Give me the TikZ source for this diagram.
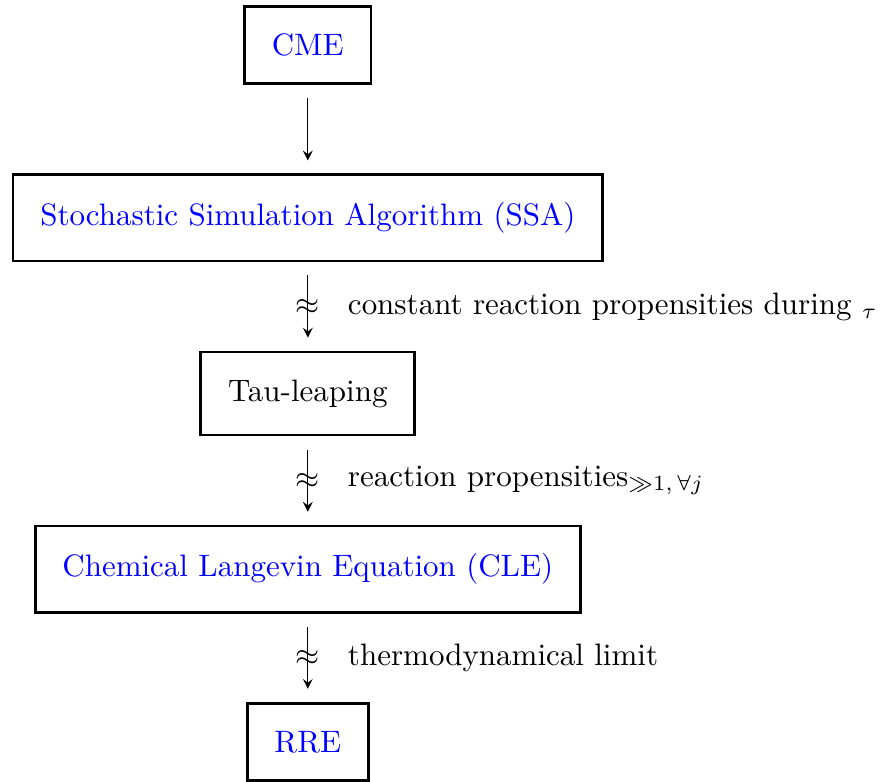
\documentclass[tikz,border=0pt]{standalone}
\usepackage{amsmath, amssymb}
\usetikzlibrary{positioning,arrows}

\begin{document}
\begin{tikzpicture}[>=stealth, node distance=1cm,
    box/.style={rectangle, draw, line width=0.9pt, inner xsep=8.8pt, inner ysep=8.9pt},
    step arrow/.style={->, shorten >=4.2pt, shorten <=4.2pt}]
    \useasboundingbox (0,0) rectangle (10,-8.855);

    % Chain of models, from the master equation down to the rate equations
    \node (cme) at (3.49,-0.51) [box, text=blue] {CME};
    \node (ssa) [box, text=blue, below=of cme] {Stochastic Simulation Algorithm (SSA)};
    \node (tau) [box, below=of ssa] {Tau-leaping};
    \node (cle) [box, text=blue, below=of tau] {Chemical Langevin Equation (CLE)};
    \node (rre) [box, text=blue, below=of cle] {RRE};

    % Exact step
    \draw[step arrow] (cme) -- (ssa);

    % Approximations
    \draw[step arrow] (ssa) -- node (apx1) {$\approx$} (tau);
    \node (lbl1) [right=2pt of apx1] {constant reaction propensities during $_\tau$};

    \draw[step arrow] (tau) -- node (apx2) {$\approx$} (cle);
    \node (lbl2) [right=2pt of apx2] {reaction propensities$_{\gg 1,\,\forall j}$};

    \draw[step arrow] (cle) -- node (apx3) {$\approx$} (rre);
    \node (lbl3) [right=2pt of apx3] {thermodynamical limit};
\end{tikzpicture}
\end{document}
